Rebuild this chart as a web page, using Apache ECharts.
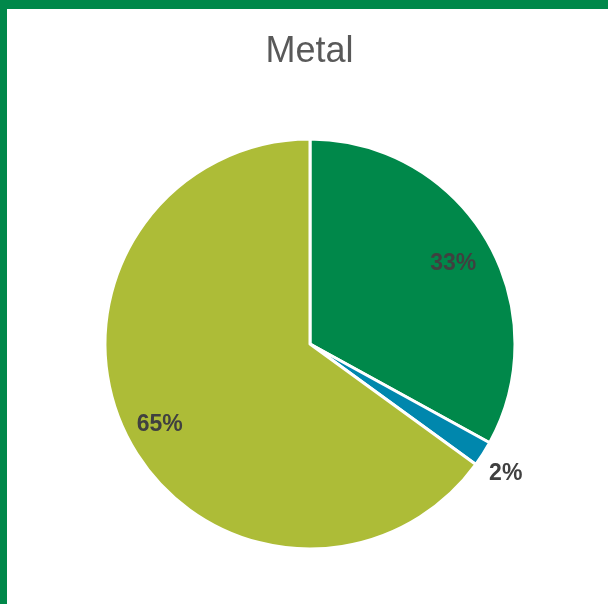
<!DOCTYPE html>
<html>
<head>
<meta charset="utf-8">
<script src="https://cdn.jsdelivr.net/npm/echarts@6/dist/echarts.min.js"></script>
<style>
  html, body { margin: 0; padding: 0; background: #ffffff; }
  #frame { position: relative; width: 608px; height: 604px; overflow: hidden; background: #ffffff; }
  #edgeTop { position: absolute; left: 0; top: 0; width: 608px; height: 9px; background: #00884A; }
  #edgeLeft { position: absolute; left: 0; top: 0; width: 7px; height: 604px; background: #00884A; }
  #chart { position: absolute; left: 7px; top: 9px; width: 605px; height: 595px; }
</style>
</head>
<body>
<div id="frame">
  <div id="chart"></div>
  <div id="edgeTop"></div>
  <div id="edgeLeft"></div>
</div>
<script>
// Share of metal by category
const chartTitle = 'Metal';
const categories = ['A', 'B', 'C'];
const shares = [33, 2, 65];
const sliceColors = ['#00884A', '#0087AD', '#ADBC37'];
// which slices carry their percentage inside the pie vs. just outside it
const labelOutside = [false, true, false];

const CENTER = [303, 335];
const R = 205;

const chart = echarts.init(document.getElementById('chart'), null, { renderer: 'canvas' });

const baseData = categories.map((c, i) => ({
  name: c,
  value: shares[i],
  itemStyle: { color: sliceColors[i] }
}));

const labelText = {
  show: true,
  formatter: p => p.value + '%',
  fontFamily: 'Liberation Sans, Arial, sans-serif',
  fontWeight: 'bold',
  fontSize: 23,
  color: '#404040',
  offset: [-1, 5]
};

function labelSeries(radius, showFn) {
  return {
    type: 'pie',
    center: CENTER,
    radius: radius,
    startAngle: 90,
    clockwise: true,
    silent: true,
    animation: false,
    z: 5,
    itemStyle: { color: 'rgba(0,0,0,0)', borderWidth: 0 },
    labelLine: { show: false },
    data: categories.map((c, i) => ({
      name: c,
      value: shares[i],
      label: Object.assign({}, labelText, { position: 'inside', show: showFn(i) })
    }))
  };
}

chart.setOption({
  backgroundColor: '#ffffff',
  title: {
    text: chartTitle,
    left: 'center',
    top: 20,
    textStyle: {
      fontFamily: 'Liberation Sans, Arial, sans-serif',
      fontWeight: 'normal',
      fontSize: 36,
      color: '#595959'
    }
  },
  series: [
    {
      type: 'pie',
      center: CENTER,
      radius: [0, R],
      startAngle: 90,
      clockwise: true,
      animation: false,
      itemStyle: { borderColor: '#ffffff', borderWidth: 3 },
      label: { show: false },
      labelLine: { show: false },
      data: baseData
    },
    labelSeries([124, R], i => !labelOutside[i]),
    labelSeries([R, R + 50], i => labelOutside[i])
  ]
});
</script>
</body>
</html>
